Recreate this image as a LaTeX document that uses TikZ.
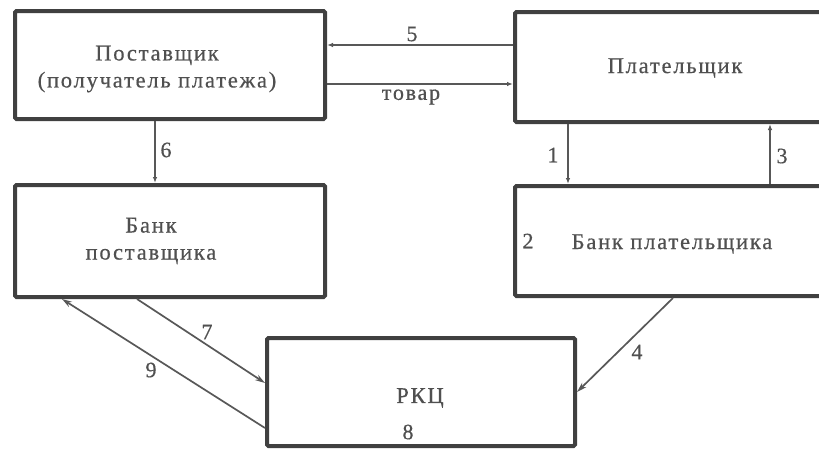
\documentclass[tikz,border=0pt]{standalone}
\usepackage{fontspec}
\setmainfont{Liberation Serif}[LetterSpace=8, FakeBold=0.5]
\usetikzlibrary{arrows.meta}
\definecolor{boxline}{HTML}{404040}
\definecolor{ink}{HTML}{505050}
\definecolor{wire}{HTML}{585858}
\tikzset{
  party/.style={draw=boxline, line width=4pt, rounded corners=1.5pt, fill=white, inner sep=0pt},
  txt/.style={text=ink, font=\fontsize{22.5}{27}\selectfont, inner sep=0pt, align=center},
  num/.style={text=ink, font=\fontsize{22}{27}\selectfont, inner sep=0pt},
  flow/.style={draw=wire, line width=1.4pt, -{Latex[length=6pt,width=4.5pt]}},
  slant/.style={draw=wire, line width=1.7pt, -{Stealth[length=10pt,width=6pt]}}
}
\begin{document}
\begin{tikzpicture}[x=1pt, y=-1pt]
\useasboundingbox (0,0) rectangle (819,448);
\clip (0,0) rectangle (819,448);
\fill[white] (0,0) rectangle (819,448);

% participants
\node[party, minimum width=310pt, minimum height=108pt] (sup) at (170,65) {};
\node[party, minimum width=320pt, minimum height=110pt] (pay) at (675,67) {};
\node[party, minimum width=310pt, minimum height=112pt] (supbank) at (170,241) {};
\node[party, minimum width=320pt, minimum height=110pt] (paybank) at (675,241) {};
\node[party, minimum width=308pt, minimum height=108pt] (rkc) at (421,392) {};

% captions
\node[txt] (tsup) at (157,69) {Поставщик\\(получатель платежа)};
\node[txt] (tpay) at (675,68) {Плательщик};
\node[txt] (tsupbank) at (151,241) {Банк\\поставщика};
\node[txt] (tpaybank) at (672,244) {Банк плательщика};
\node[txt] (trkc) at (420,398) {РКЦ};

% flows between participants
\draw[flow] ([yshift=22pt]pay.west) -- ([yshift=20pt]sup.east);
\draw[flow] ([yshift=-19pt]sup.east) -- ([yshift=-17pt]pay.west);
\draw[flow] ([xshift=-15pt]sup.south) -- ([xshift=-15pt]supbank.north);
\draw[flow] ([xshift=-107pt]pay.south) -- ([xshift=-107pt]paybank.north);
\draw[flow] ([xshift=95pt]paybank.north) -- ([xshift=95pt]pay.south);
\draw[slant] ([xshift=-2pt]paybank.south) -- ([yshift=0pt]rkc.east);
\draw[slant] ([xshift=-33pt]supbank.south) -- ([yshift=9pt]rkc.west);
\draw[slant] ([yshift=-36pt]rkc.west) -- ([xshift=-108pt]supbank.south);

% step numbers
\node[num] (n5) at (412,34) {5};
\node[num] (ngoods) at (411,97) {товар};
\node[num] (n6) at (166,150) {6};
\node[num] (n1) at (553,155) {1};
\node[num] (n3) at (782,156) {3};
\node[num] (n2) at (528,241) {2};
\node[num] (n4) at (637,352) {4};
\node[num] (n7) at (207,332) {7};
\node[num] (n9) at (151,370) {9};
\node[num] (n8) at (408,432) {8};
\end{tikzpicture}
\end{document}
